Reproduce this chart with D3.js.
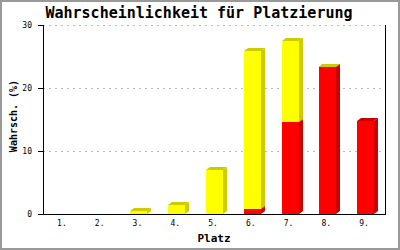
<!DOCTYPE html>
<style>
body { margin: 0; }
text { font-family: "DejaVu Sans Mono", monospace; }
</style>
<svg width="400" height="250"></svg>
<script src="https://d3js.org/d3.v7.min.js"></script>
<script>

var places = ["1.", "2.", "3.", "4.", "5.", "6.", "7.", "8.", "9."];
var redValues = [null, null, null, null, null, 0.8, 14.6, 23.3, 14.8];
var yellowValues = [null, null, 0.4, 1.4, 7.0, 25.0, 12.9, 0, null];
var yTicks = [0, 10, 20, 30];

var svg = d3.select("svg");

svg.append("rect")
    .attr("x", 1).attr("y", 1)
    .attr("width", 398).attr("height", 248)
    .attr("fill", "#fff")
    .attr("stroke", "#999")
    .attr("stroke-width", 2);

var plotLeft = 43, plotRight = 385, plotTop = 25, plotBottom = 214;

var x = d3.scaleBand().domain(places).range([plotLeft, 383]);
var y = d3.scaleLinear().domain([0, 30]).range([plotBottom, plotTop]);

// grid
svg.selectAll(".grid")
  .data(yTicks.filter(function(d) { return d > 0; }))
  .enter().append("line")
    .attr("x1", plotLeft).attr("x2", plotRight)
    .attr("y1", function(d) { return y(d) + 0.5; })
    .attr("y2", function(d) { return y(d) + 0.5; })
    .attr("stroke", "#bbb")
    .attr("stroke-dasharray", "2,4");

var dx = 4, dy = 3, bw = 17;

function drawSeg(i, v0, v1, col, dark) {
  var cx = x(places[i]) + x.bandwidth() / 2;
  var x0 = Math.round(cx - 7), x1 = x0 + bw;
  var yt = Math.round(y(v1)), yb = Math.round(y(v0));
  svg.append("polygon")
      .attr("points", [[x1, yt], [x1 + dx, yt - dy], [x1 + dx, yb - dy], [x1, yb]].join(" "))
      .attr("fill", dark);
  svg.append("polygon")
      .attr("points", [[x0, yt], [x0 + dx, yt - dy], [x1 + dx, yt - dy], [x1, yt]].join(" "))
      .attr("fill", dark);
  svg.append("rect")
      .attr("x", x0).attr("y", yt)
      .attr("width", bw).attr("height", yb - yt)
      .attr("fill", col);
}

places.forEach(function(p, i) {
  var r = redValues[i];
  if (r != null) drawSeg(i, 0, r, "#ff0000", "#cc0000");
  var yv = yellowValues[i];
  if (yv != null) drawSeg(i, r || 0, (r || 0) + yv, "#ffff00", "#cccc00");
});

// axes
svg.append("line")
    .attr("x1", plotLeft + 0.5).attr("x2", plotLeft + 0.5)
    .attr("y1", plotTop).attr("y2", plotBottom + 1)
    .attr("stroke", "#000");
svg.append("line")
    .attr("x1", plotRight + 0.5).attr("x2", plotRight + 0.5)
    .attr("y1", plotTop).attr("y2", plotBottom + 1)
    .attr("stroke", "#000");
svg.append("line")
    .attr("x1", plotLeft).attr("x2", plotRight + 1)
    .attr("y1", plotBottom + 0.5).attr("y2", plotBottom + 0.5)
    .attr("stroke", "#000");

svg.selectAll(".ytick")
  .data(yTicks)
  .enter().append("line")
    .attr("x1", 38).attr("x2", plotLeft)
    .attr("y1", function(d) { return y(d) + 0.5; })
    .attr("y2", function(d) { return y(d) + 0.5; })
    .attr("stroke", "#000");

svg.selectAll(".ylab")
  .data(yTicks)
  .enter().append("text")
    .attr("x", 32)
    .attr("y", function(d) { return y(d) + 3; })
    .attr("text-anchor", "end")
    .style("font-size", "8px")
    .text(function(d) { return d; });

svg.selectAll(".xlab")
  .data(places)
  .enter().append("text")
    .attr("x", function(d) { return x(d) + x.bandwidth() / 2; })
    .attr("y", 226)
    .attr("text-anchor", "middle")
    .style("font-size", "8px")
    .text(function(d) { return d; });

svg.append("text")
    .attr("x", 199).attr("y", 18)
    .attr("text-anchor", "middle")
    .style("font-size", "15px")
    .style("font-weight", "bold")
    .text("Wahrscheinlichkeit für Platzierung");

svg.append("text")
    .attr("x", 214).attr("y", 242)
    .attr("text-anchor", "middle")
    .style("font-size", "11px")
    .style("font-weight", "bold")
    .text("Platz");

svg.append("text")
    .attr("transform", "translate(17,116) rotate(-90)")
    .attr("text-anchor", "middle")
    .style("font-size", "10px")
    .style("font-weight", "bold")
    .text("Wahrsch. (%)");

</script>
